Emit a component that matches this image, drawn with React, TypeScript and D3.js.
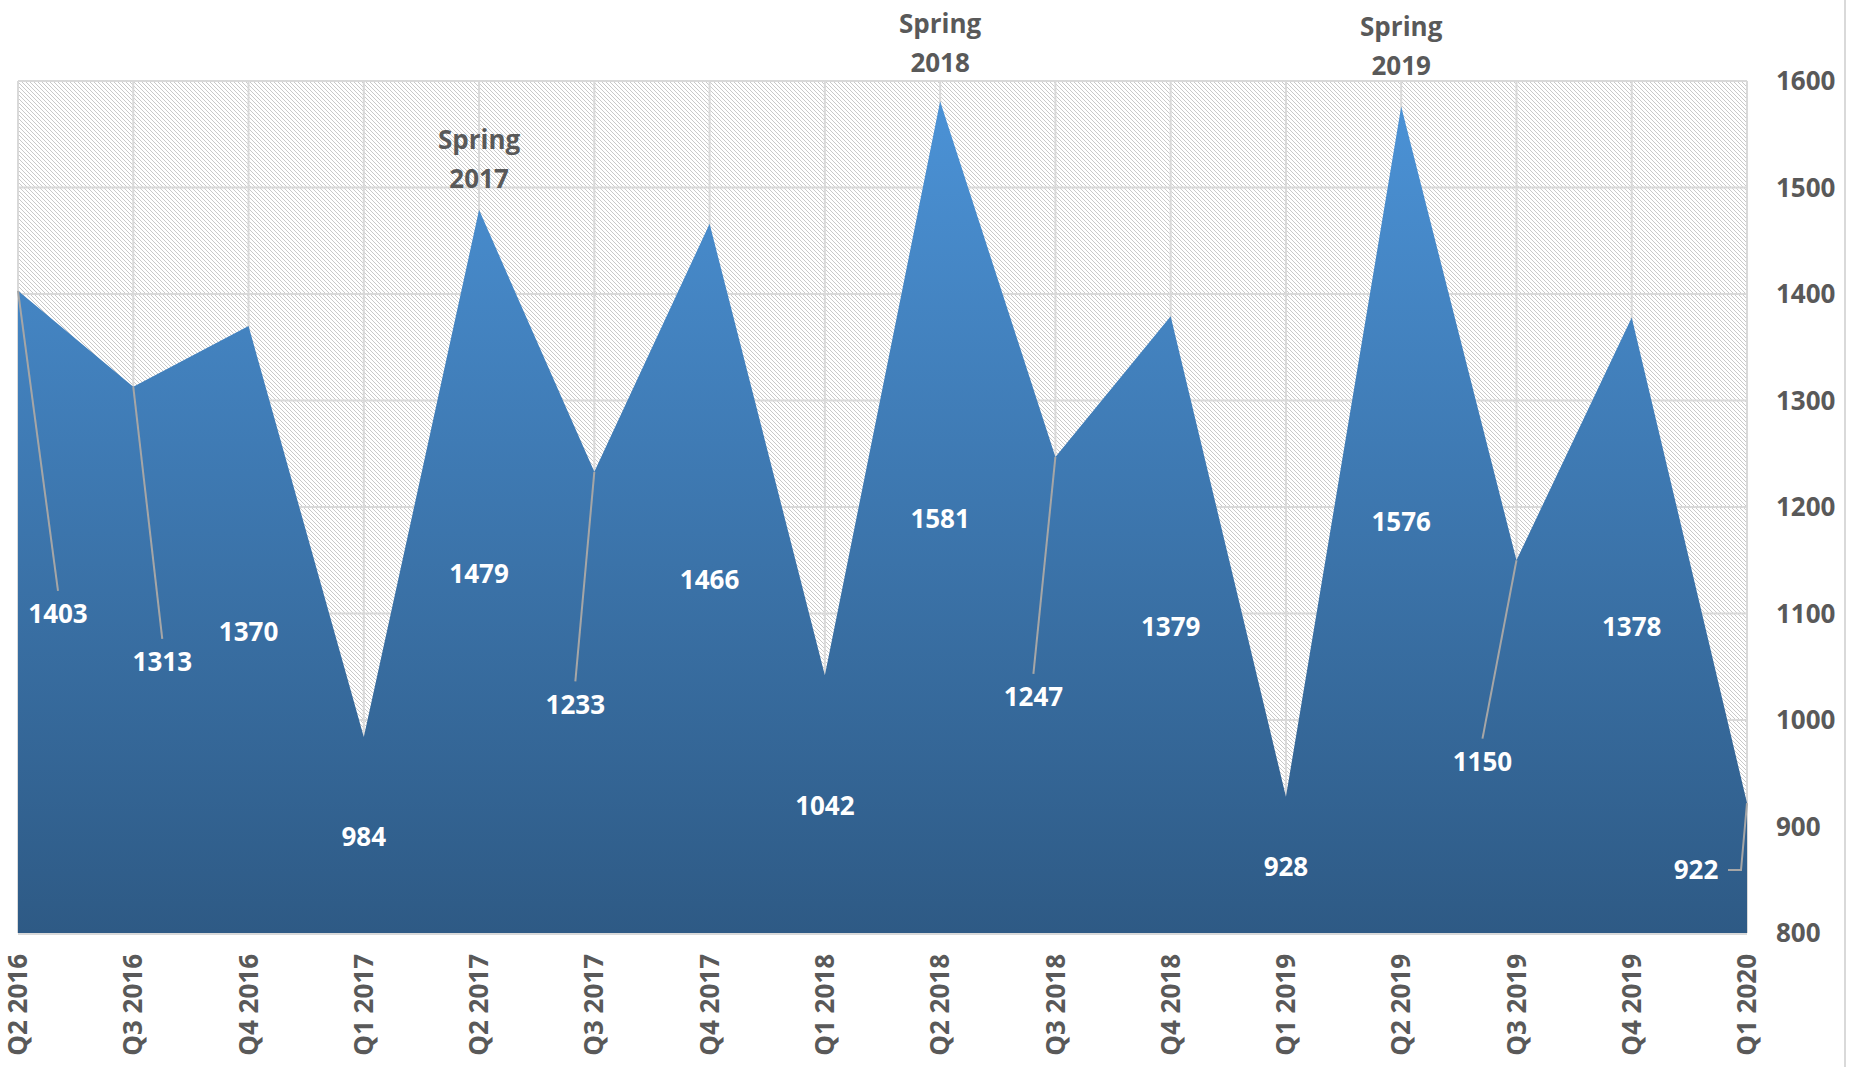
import React from "react";
import * as d3 from "d3";

const categories = [
  "Q2 2016", "Q3 2016", "Q4 2016", "Q1 2017", "Q2 2017", "Q3 2017", "Q4 2017", "Q1 2018",
  "Q2 2018", "Q3 2018", "Q4 2018", "Q1 2019", "Q2 2019", "Q3 2019", "Q4 2019", "Q1 2020",
];
const values = [1403, 1313, 1370, 984, 1479, 1233, 1466, 1042, 1581, 1247, 1379, 928, 1576, 1150, 1378, 922];
const yTicks = [800, 900, 1000, 1100, 1200, 1300, 1400, 1500, 1600];
const annotations = [
  { index: 4, lines: ["Spring", "2017"] },
  { index: 8, lines: ["Spring", "2018"] },
  { index: 12, lines: ["Spring", "2019"] },
];
// layout only: label shifts (px) and leader type
const labelShiftX = [40, 29, 0, 0, 0, -19, 0, 0, 0, -22, 0, 0, 0, -34, 0, -51];
const labelShiftY = [0, 0, 0, 0, 0, 0, 0, 0, 0, 0, 0, 0, 0, 13, 0, 0];
const leaderKind = ["top", "top", "", "", "", "top", "", "", "", "top", "", "", "", "top", "", "side"];
const annotationShiftY = [4, -3, -6];

const W = 1851;
const H = 1067;
const left = 18;
const right = 1747;
const top = 81;
const bottom = 933;

const FONT = "'Open Sans', 'Liberation Sans', sans-serif";
const GRAY = "#595959";

export default function App() {
  const x = d3.scalePoint<string>().domain(categories).range([left, right]);
  const y = d3.scaleLinear().domain([800, 1600]).range([bottom, top]);

  const area = d3
    .area<number>()
    .x((_, i) => x(categories[i]) as number)
    .y0(y(800))
    .y1((d) => y(d));

  return (
    <svg
      width={W}
      height={H}
      style={{ position: "absolute", left: 0, top: 0, background: "#fff" }}
      fontFamily={FONT}
    >
      <defs>
        <pattern id="hatch" width={4} height={4} patternUnits="userSpaceOnUse">
          <rect width={4} height={4} fill="#ffffff" />
          {[0, 1, 2, 3].map((k) => (
            <rect key={k} x={k} y={k} width={1} height={1} fill="#c9c9c9" />
          ))}
        </pattern>
        <linearGradient id="areaGrad" x1="0" y1="0" x2="0" y2="1">
          <stop offset="0%" stopColor="#4b92d6" />
          <stop offset="100%" stopColor="#2e5a85" />
        </linearGradient>
      </defs>

      {/* plot background */}
      <rect x={left} y={top} width={right - left} height={bottom - top} fill="url(#hatch)" shapeRendering="crispEdges" />

      {/* gridlines */}
      {yTicks.map((t) => (
        <line key={"h" + t} x1={left} x2={right} y1={y(t)} y2={y(t)} stroke="#d9d9d9" strokeWidth={2} />
      ))}
      {categories.map((c) => (
        <line key={"v" + c} x1={x(c)} x2={x(c)} y1={top} y2={bottom} stroke="#d9d9d9" strokeWidth={2} />
      ))}

      {/* area */}
      <path d={area(values) as string} fill="url(#areaGrad)" />

      {/* axis line */}
      <line x1={left} x2={right} y1={bottom + 1} y2={bottom + 1} stroke="#d9d9d9" strokeWidth={2} />

      {/* leader lines */}
      {values.map((v, i) => {
        const px = x(categories[i]) as number;
        const py = y(v);
        const lx = px + labelShiftX[i];
        const mid = (py + y(800)) / 2 + 2 + labelShiftY[i];
        if (leaderKind[i] === "top") {
          return <line key={"l" + i} x1={px} y1={py} x2={lx} y2={mid - 23} stroke="#a6a6a6" strokeWidth={2} />;
        }
        if (leaderKind[i] === "side") {
          return (
            <polyline
              key={"l" + i}
              points={`${px},${py} ${px - 6},${mid} ${lx + 32},${mid}`}
              fill="none"
              stroke="#a6a6a6"
              strokeWidth={2}
            />
          );
        }
        return null;
      })}

      {/* data labels */}
      {values.map((v, i) => {
        const px = x(categories[i]) as number;
        const mid = (y(v) + y(800)) / 2 + 2 + labelShiftY[i];
        return (
          <text
            key={"t" + i}
            x={px + labelShiftX[i]}
            y={mid}
            dy="0.35em"
            textAnchor="middle"
            fill="#ffffff"
            fontWeight="bold"
            fontSize={26}
          >
            {v}
          </text>
        );
      })}

      {/* annotations */}
      {annotations.map((a, k) => {
        const px = x(categories[a.index]) as number;
        const base = y(values[a.index]) - 26 + annotationShiftY[k];
        return (
          <text key={"a" + a.index} textAnchor="middle" fill={GRAY} fontWeight="bold" fontSize={26}>
            <tspan x={px} y={base - 39}>{a.lines[0]}</tspan>
            <tspan x={px} y={base}>{a.lines[1]}</tspan>
          </text>
        );
      })}

      {/* y axis labels (right) */}
      {yTicks.map((t) => (
        <text key={"y" + t} x={1776} y={y(t)} dy="0.35em" fill={GRAY} fontWeight="bold" fontSize={26}>
          {t}
        </text>
      ))}

      {/* x axis labels */}
      {categories.map((c) => (
        <text
          key={"x" + c}
          transform={`translate(${x(c)},${954}) rotate(-90)`}
          textAnchor="end"
          dy="0.35em"
          fill={GRAY}
          fontWeight="bold"
          fontSize={26}
        >
          {c}
        </text>
      ))}

      {/* chart border on right */}
      <line x1={1845} x2={1845} y1={0} y2={H} stroke="#d9d9d9" strokeWidth={2} />
    </svg>
  );
}
